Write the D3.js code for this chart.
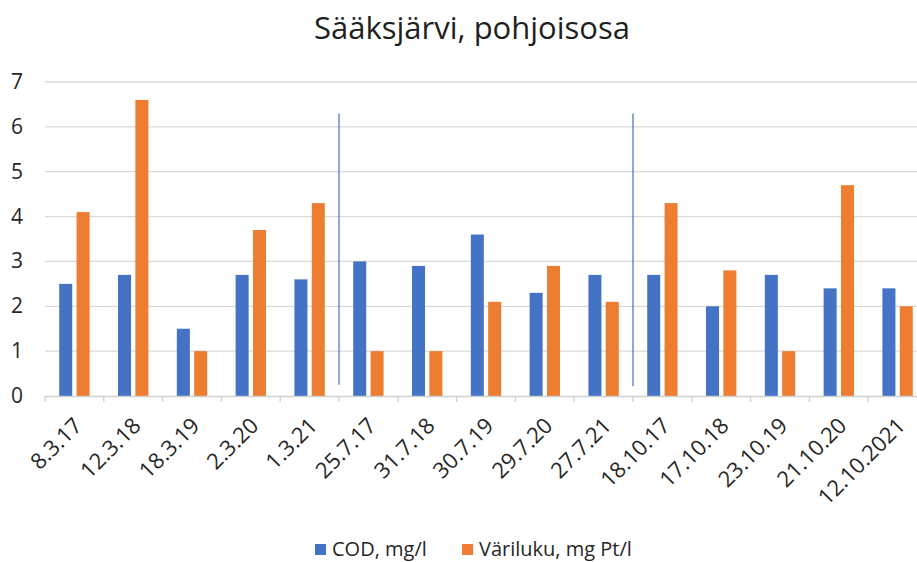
<!DOCTYPE html>
<html>
<head>
<meta charset="utf-8">
<script src="https://cdn.jsdelivr.net/npm/d3@7"></script>
<style>
  body { margin: 0; background: #fff; overflow: hidden; }
  text { font-family: "Open Sans", sans-serif; }
</style>
</head>
<body>
<div class="container"></div>
<script>
// data
var categories = ["8.3.17", "12.3.18", "18.3.19", "2.3.20", "1.3.21",
  "25.7.17", "31.7.18", "30.7.19", "29.7.20", "27.7.21",
  "18.10.17", "17.10.18", "23.10.19", "21.10.20", "12.10.2021"];
var codValues = [2.5, 2.7, 1.5, 2.7, 2.6, 3.0, 2.9, 3.6, 2.3, 2.7, 2.7, 2.0, 2.7, 2.4, 2.4];
var variValues = [4.1, 6.6, 1.0, 3.7, 4.3, 1.0, 1.0, 2.1, 2.9, 2.1, 4.3, 2.8, 1.0, 4.7, 2.0];
var seriesNames = ["COD, mg/l", "Väriluku, mg Pt/l"];
var yTicks = [0, 1, 2, 3, 4, 5, 6, 7];
// season separators drawn by hand in the original (after these categories)
var separators = [
  { after: "1.3.21", top: 6.3, bottom: 0.25 },
  { after: "27.7.21", top: 6.3, bottom: 0.22 }
];

var settings = { w: 917, h: 562, left: 45, right: 927, top: 82, bottom: 396 };
var colors = ["#4472C4", "#ED7D31"];

var svg = d3.select(".container").append("svg")
  .attr("width", settings.w)
  .attr("height", settings.h);

var x0 = d3.scaleBand().domain(categories).range([settings.left, settings.right]);
var x1 = d3.scaleBand().domain([0, 1]).range([0, x0.bandwidth()])
  .paddingInner(0.25).paddingOuter(0.82);
var y = d3.scaleLinear().domain([0, 7]).range([settings.bottom, settings.top]);

// title
svg.append("text")
  .attr("x", 472).attr("y", 39)
  .attr("text-anchor", "middle")
  .style("font-size", "31px")
  .style("fill", "#1f1f1f")
  .text("Sääksjärvi, pohjoisosa");

// gridlines
svg.append("g").selectAll("line")
  .data(yTicks.filter(function(d) { return d > 0; }))
  .enter().append("line")
  .attr("x1", settings.left).attr("x2", settings.right)
  .attr("y1", function(d) { return y(d); })
  .attr("y2", function(d) { return y(d); })
  .style("stroke", "#d9d9d9")
  .style("stroke-width", 1.3);

// y axis labels
svg.append("g").selectAll("text")
  .data(yTicks)
  .enter().append("text")
  .attr("x", 17).attr("y", function(d) { return y(d) + 7; })
  .attr("text-anchor", "middle")
  .style("font-size", "21px")
  .style("fill", "#262626")
  .text(function(d) { return d; });

// bars
var rows = categories.map(function(c, i) { return { cat: c, vals: [codValues[i], variValues[i]] }; });
var groups = svg.append("g").selectAll("g")
  .data(rows)
  .enter().append("g")
  .attr("transform", function(d) { return "translate(" + x0(d.cat) + ",0)"; });

groups.selectAll("rect")
  .data(function(d) { return d.vals; })
  .enter().append("rect")
  .attr("x", function(d, i) { return x1(i); })
  .attr("width", x1.bandwidth())
  .attr("y", function(d) { return y(d); })
  .attr("height", function(d) { return y(0) - y(d); })
  .style("fill", function(d, i) { return colors[i]; });

// x axis line + ticks
var xAxis = svg.append("g")
  .attr("transform", "translate(0," + settings.bottom + ")")
  .call(d3.axisBottom(x0).tickSize(0).tickFormat(""));
xAxis.select(".domain").style("stroke", "#d0d0d0").style("stroke-width", 1.3);

var tickPos = categories.map(function(c) { return x0(c); });
svg.append("g").selectAll("line")
  .data(tickPos)
  .enter().append("line")
  .attr("x1", function(d) { return d; }).attr("x2", function(d) { return d; })
  .attr("y1", settings.bottom).attr("y2", settings.bottom + 6)
  .style("stroke", "#d0d0d0")
  .style("stroke-width", 1.3);

// x labels rotated
svg.append("g").selectAll("text")
  .data(categories)
  .enter().append("text")
  .attr("text-anchor", "end")
  .attr("transform", function(d) {
    return "translate(" + (x0(d) + x0.bandwidth() / 2 + 9) + "," + (settings.bottom + 31) + ") rotate(-45)";
  })
  .style("font-size", "22px")
  .style("fill", "#262626")
  .text(function(d) { return d; });

// separator lines
svg.append("g").selectAll("line")
  .data(separators)
  .enter().append("line")
  .attr("x1", function(d) { return x0(d.after) + x0.bandwidth(); })
  .attr("x2", function(d) { return x0(d.after) + x0.bandwidth(); })
  .attr("y1", function(d) { return y(d.top); })
  .attr("y2", function(d) { return y(d.bottom); })
  .style("stroke", "#4472C4")
  .style("stroke-width", 1.2);

// legend
var legendX = [315, 462];
var legend = svg.append("g").selectAll("g")
  .data(seriesNames)
  .enter().append("g")
  .attr("transform", function(d, i) { return "translate(" + legendX[i] + ",544)"; });
legend.append("rect")
  .attr("width", 11).attr("height", 11)
  .style("fill", function(d, i) { return colors[i]; });
legend.append("text")
  .attr("x", 17).attr("y", 12)
  .style("font-size", "20px")
  .style("fill", "#262626")
  .text(function(d) { return d; });
</script>
</body>
</html>
